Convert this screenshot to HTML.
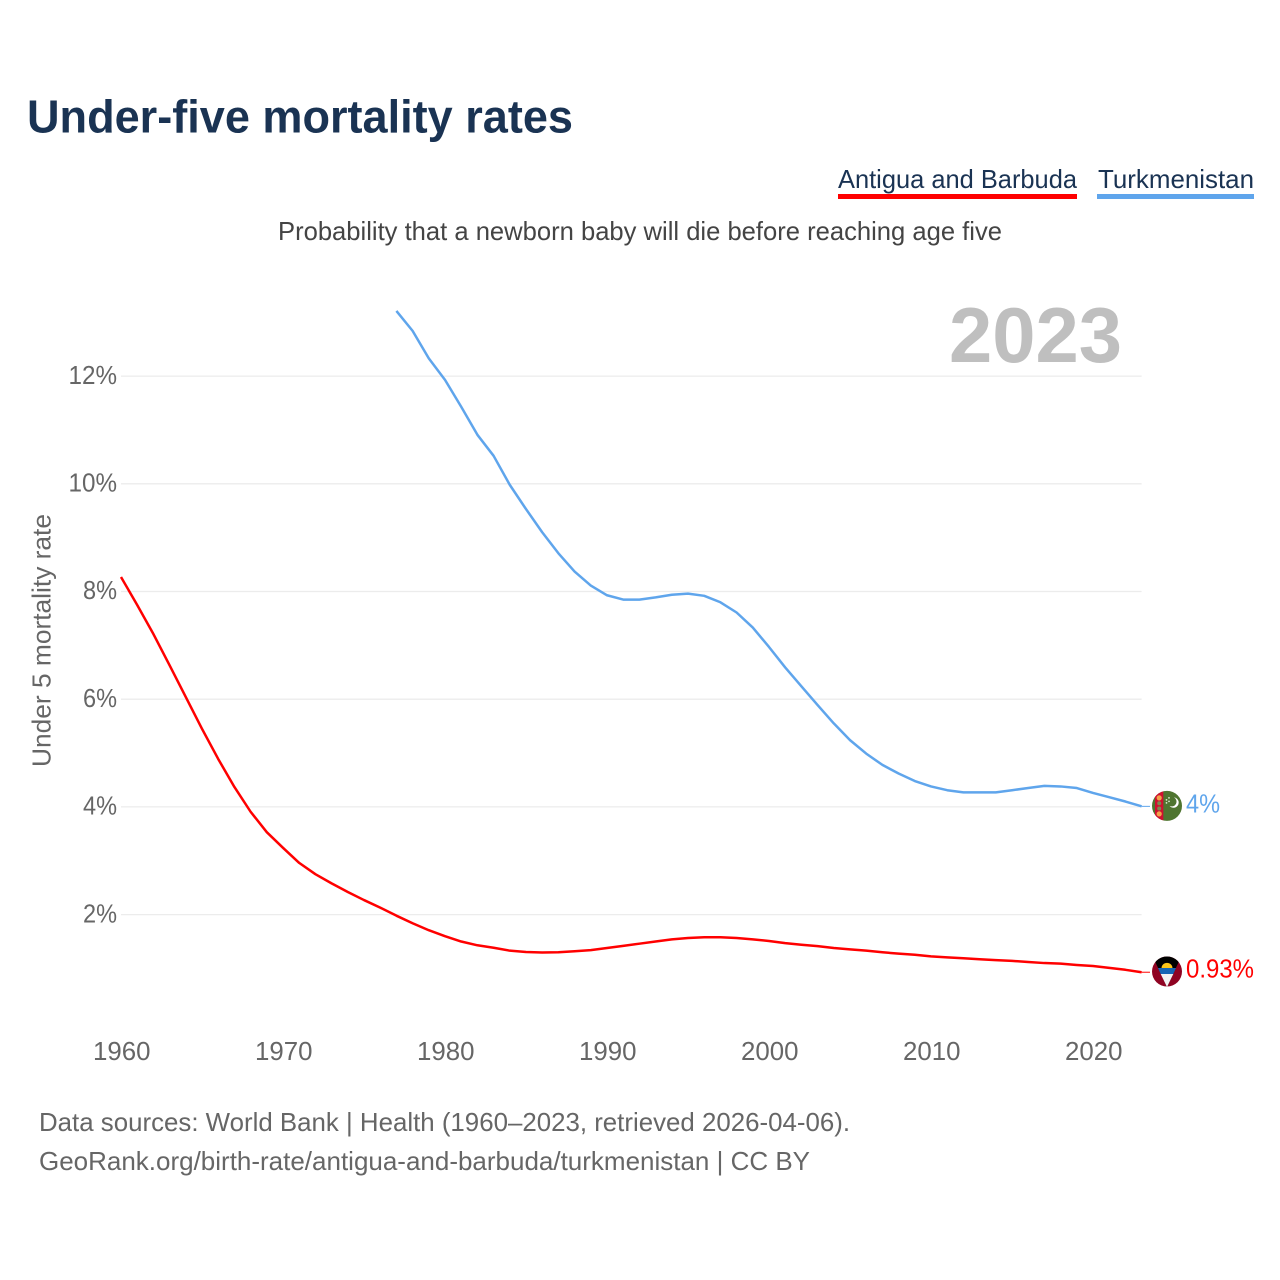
<!DOCTYPE html>
<html lang="en">
<head>
<meta charset="utf-8">
<title>Under-five mortality rates</title>
<style>
html,body{margin:0;padding:0;background:#fff;}
svg{display:block;font-family:"Liberation Sans",sans-serif;}
</style>
</head>
<body>
<svg id="chart" xmlns="http://www.w3.org/2000/svg" width="1280" height="1280" viewBox="0 0 1280 1280">
  <rect width="1280" height="1280" fill="#ffffff"/>
  <text x="27" y="132.5" font-size="46" font-weight="700" fill="#1a3353" textLength="546" lengthAdjust="spacingAndGlyphs">Under-five mortality rates</text>

  <g>
    <text x="838" y="188" font-size="26" fill="#1a3353" textLength="239" lengthAdjust="spacingAndGlyphs">Antigua and Barbuda</text>
    <rect x="838" y="194" width="239" height="5" fill="#ff0000"/>
  </g>
  <g>
    <text x="1098" y="188" font-size="26" fill="#1a3353" textLength="156" lengthAdjust="spacingAndGlyphs">Turkmenistan</text>
    <rect x="1097" y="194" width="157" height="5" fill="#5fa5ec"/>
  </g>

  <text x="278" y="240" font-size="26" fill="#444444" textLength="724" lengthAdjust="spacingAndGlyphs">Probability that a newborn baby will die before reaching age five</text>
  <text x="949" y="362" font-size="78" font-weight="700" fill="#bfbfbf" textLength="173" lengthAdjust="spacingAndGlyphs">2023</text>
  <text transform="translate(50.5 767) rotate(-90)" font-size="26" fill="#666666" textLength="253" lengthAdjust="spacingAndGlyphs">Under 5 mortality rate</text>

  <g id="grid"></g>
  <g id="y-ticks"></g>
  <g id="x-ticks"></g>
  <g id="series"></g>

  <defs>
    <clipPath id="flag-clip"><circle cx="0" cy="0" r="15"/></clipPath>
  </defs>

  <g id="flag-turkmenistan">
    <g clip-path="url(#flag-clip)">
      <rect x="-15" y="-16" width="30" height="32" fill="#4f7530"/>
      <rect x="-12" y="-16" width="8.3" height="32" fill="#d01030"/>
      <circle cx="-7.8" cy="-8" r="2.6" fill="#f2a24a"/>
      <circle cx="-7.8" cy="-2.6" r="2" fill="#7c8a50"/>
      <circle cx="-7.8" cy="2.6" r="2" fill="#7c8a50"/>
      <circle cx="-7.8" cy="8" r="2.6" fill="#f2a24a"/>
      <path d="M7 -8.5 A5.2 5.2 0 1 1 2.5 0 A4.4 4.4 0 1 0 7 -8.5Z" fill="#ffffff"/>
      <circle cx="-0.5" cy="-6" r="0.9" fill="#dfe8d5"/>
      <circle cx="2" cy="-8" r="0.9" fill="#dfe8d5"/>
      <circle cx="-0.5" cy="-3" r="0.9" fill="#dfe8d5"/>
      <circle cx="2" cy="-4.5" r="0.9" fill="#dfe8d5"/>
    </g>
  </g>
  <g id="flag-antigua">
    <g clip-path="url(#flag-clip)">
      <rect x="-15" y="-16" width="30" height="32" fill="#8f0322"/>
      <polygon points="-14.5,-15.5 14.5,-15.5 0,15.5" fill="#000000"/>
      <path d="M-5.5 -3.2 A5.5 5.5 0 0 1 5.5 -3.2 Z" fill="#fcc419"/>
      <polygon points="-9,-3.5 9,-3.5 6.3,2.5 -6.3,2.5" fill="#1565b5"/>
      <polygon points="-6.3,2.5 6.3,2.5 0,15.5" fill="#f2f2f2"/>
    </g>
  </g>

  <text id="label-turkmenistan" x="1186" font-size="26" fill="#5fa5ec" textLength="34" lengthAdjust="spacingAndGlyphs">4%</text>
  <text id="label-antigua" x="1186" font-size="26" fill="#ff0000" textLength="68" lengthAdjust="spacingAndGlyphs">0.93%</text>

  <text x="39" y="1131" font-size="26" fill="#666666" textLength="811" lengthAdjust="spacingAndGlyphs">Data sources: World Bank | Health (1960–2023, retrieved 2026-04-06).</text>
  <text x="39" y="1170" font-size="26" fill="#666666" textLength="771" lengthAdjust="spacingAndGlyphs">GeoRank.org/birth-rate/antigua-and-barbuda/turkmenistan | CC BY</text>
</svg>

<script>
const antiguaStartYear = 1960;
const turkmenistanStartYear = 1977;
const antiguaValues = [8.27,7.75,7.21,6.63,6.04,5.45,4.89,4.37,3.91,3.53,3.24,2.96,2.75,2.58,2.42,2.27,2.13,1.98,1.84,1.71,1.60,1.50,1.43,1.385,1.33,1.305,1.296,1.30,1.32,1.34,1.38,1.42,1.46,1.50,1.54,1.565,1.58,1.58,1.565,1.54,1.51,1.47,1.44,1.415,1.38,1.355,1.33,1.30,1.275,1.255,1.225,1.205,1.19,1.17,1.155,1.14,1.12,1.10,1.09,1.065,1.045,1.01,0.975,0.93];
const turkmenistanValues = [13.21,12.84,12.33,11.93,11.43,10.91,10.52,9.98,9.53,9.10,8.71,8.37,8.11,7.93,7.85,7.85,7.89,7.94,7.96,7.92,7.80,7.61,7.33,6.97,6.59,6.24,5.89,5.55,5.24,4.99,4.78,4.62,4.48,4.38,4.31,4.27,4.27,4.27,4.31,4.35,4.39,4.38,4.35,4.26,4.18,4.10,4.01];
const yTickValues = [2,4,6,8,10,12];
const yTickLabels = ["2%","4%","6%","8%","10%","12%"];
const xTickValues = [1960,1970,1980,1990,2000,2010,2020];
const xTickLabels = ["1960","1970","1980","1990","2000","2010","2020"];

const NS = "http://www.w3.org/2000/svg";
function xScale(year){ return 121 + (year - 1960) * 16.2; }
function yScale(value){ return 1022.3 - value * 53.85; }
function make(tag, attrs, text){
  const el = document.createElementNS(NS, tag);
  for (const k in attrs) el.setAttribute(k, attrs[k]);
  if (text !== undefined) el.textContent = text;
  return el;
}
function linePath(values, startYear){
  return values.map((v, i) => (i ? "L" : "M") + xScale(startYear + i).toFixed(2) + " " + yScale(v).toFixed(2)).join(" ");
}

const grid = document.getElementById("grid");
const yTicks = document.getElementById("y-ticks");
yTickValues.forEach((v, i) => {
  const line = make("line", {x1: xScale(1960), x2: xScale(2023), y1: yScale(v), y2: yScale(v), stroke: "#ececec", "stroke-width": 1.3});
  
  
  grid.appendChild(line);
  const label = yTickLabels[i];
  const t = make("text", {x: 117, y: yScale(v) + 7.7, "text-anchor": "end", "font-size": 26, fill: "#666666", textLength: 14.5 * (label.length - 1) + 19.5, lengthAdjust: "spacingAndGlyphs"}, label);
  
  
  yTicks.appendChild(t);
});

const xTicks = document.getElementById("x-ticks");
xTickValues.forEach((yr, i) => {
  const t = make("text", {x: xScale(yr) + 0.8, y: 1060, "text-anchor": "middle", "font-size": 26, fill: "#666666", textLength: 57.5, lengthAdjust: "spacingAndGlyphs"}, xTickLabels[i]);
  
  
  xTicks.appendChild(t);
});

const series = document.getElementById("series");
const antiguaLine = make("path", {d: linePath(antiguaValues, antiguaStartYear), fill: "none", stroke: "#ff0000", "stroke-width": 2.5, "stroke-linejoin": "round"});


series.appendChild(antiguaLine);
const turkmenLine = make("path", {d: linePath(turkmenistanValues, turkmenistanStartYear), fill: "none", stroke: "#5fa5ec", "stroke-width": 2.5, "stroke-linejoin": "round"});


series.appendChild(turkmenLine);

const antiguaLast = yScale(antiguaValues[antiguaValues.length - 1]);
const turkmenLast = yScale(turkmenistanValues[turkmenistanValues.length - 1]);
const stubA = make("line", {x1: xScale(2023), x2: 1150, y1: antiguaLast, y2: antiguaLast, stroke: "#ff0000", "stroke-width": 1});


series.appendChild(stubA);
const stubT = make("line", {x1: xScale(2023), x2: 1150, y1: turkmenLast, y2: turkmenLast, stroke: "#5fa5ec", "stroke-width": 1});


series.appendChild(stubT);

document.getElementById("flag-turkmenistan").setAttribute("transform", "translate(1167 " + (turkmenLast - 0.5) + ")");
document.getElementById("flag-antigua").setAttribute("transform", "translate(1167 " + (antiguaLast - 0.7) + ")");
document.getElementById("label-turkmenistan").setAttribute("y", turkmenLast + 6);
document.getElementById("label-antigua").setAttribute("y", antiguaLast + 5.5);
</script>
</body>
</html>
